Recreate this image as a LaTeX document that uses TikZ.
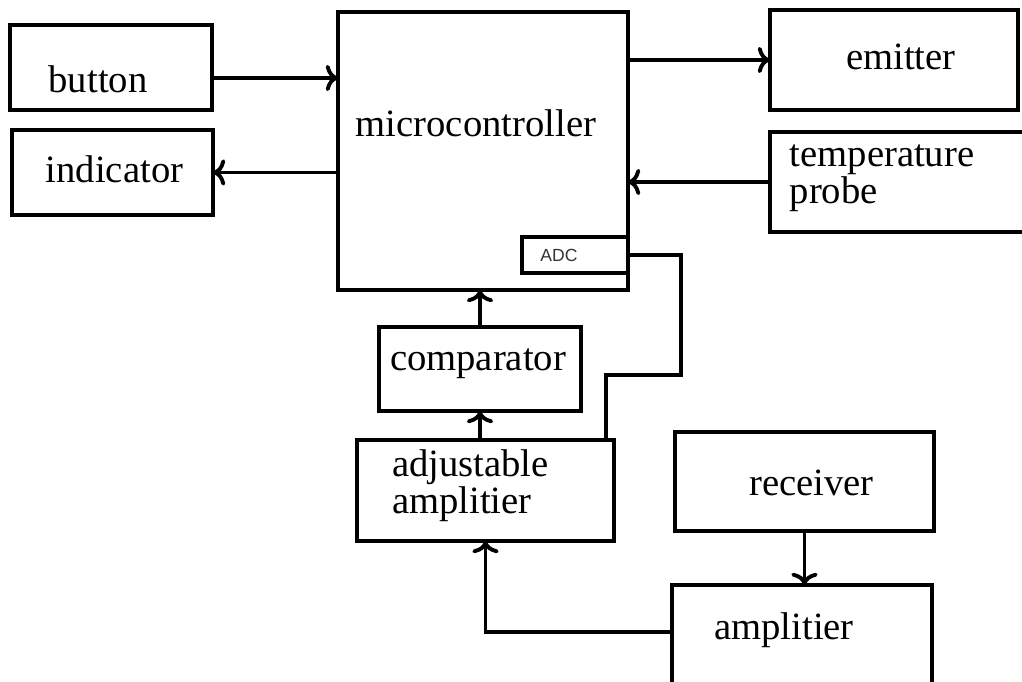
\documentclass[tikz,border=0pt]{standalone}
\usepackage{fontspec}
\setmainfont{Liberation Serif}
\newfontfamily\adcfont{Liberation Sans}
\usetikzlibrary{arrows.meta,positioning}

\tikzset{
  blk/.style 2 args={draw, line width=2.2pt, inner sep=0pt, outer sep=0pt,
    minimum width=#1*0.02cm, minimum height=#2*0.02cm},
  conn/.style={line width=2pt},
  arr/.style={conn, -{To[length=7pt,width=15pt,line width=2.2pt]}},
  txt/.style={font=\fontsize{22}{18}\selectfont, align=left}
}

\begin{document}
\begin{tikzpicture}[x=0.02cm, y=-0.02cm]
        \useasboundingbox (0,0) rectangle (1022,682);
        % blocks
        \node[blk={202}{85}, label={[txt, shift={(-13,12)}]center:button}] (button) at (111,67.5) {};
        \node[blk={201}{85}, label={[txt, shift={(2,-3)}]center:indicator}] (indicator) at (112.5,172.5) {};
        \node[blk={290}{278}, label={[txt, shift={(-7,-28)}]center:microcontroller}] (micro) at (483,151) {};
        \node[blk={106}{36}, label={[font=\adcfont\fontsize{10}{12}\selectfont, text=black!80, shift={(-16,0)}]center:ADC}] (adc) at (575,255) {};
        \node[blk={248}{100}, label={[txt, shift={(7,-3)}]center:emitter}] (emitter) at (894,60) {};
        \node[blk={260}{100}, label={[txt, shift={(-18,-4)}]center:temperature\\probe}] (tprobe) at (900,182) {};
        \node[blk={202}{84}, label={[txt, shift={(-2,-5)}]center:comparator}] (comparator) at (480,369) {};
        \node[blk={257}{101}, label={[txt, shift={(-15,-5)}]center:adjustable\\amplitier}] (adjamp) at (485.5,490.5) {};
        \node[blk={259}{99}, label={[txt, shift={(7,1)}]center:receiver}] (receiver) at (804.5,481.5) {};
        \node[blk={260}{115}, label={[txt, shift={(-18,-12)}]center:amplitier}] (amp) at (802,642.5) {};

        % connections
        \draw[arr] (button.east |- 0,78) -- (micro.west |- 0,78);
        \draw[arr] (micro.west |- indicator.east) -- (indicator.east);
        \draw[arr] (micro.east |- emitter.west) -- (emitter.west);
        \draw[arr] (tprobe.west) -- (micro.east |- tprobe.west);
        \draw[arr] (comparator.north) -- (comparator.north |- micro.south);
        \draw[arr] (comparator.south |- adjamp.north) -- (comparator.south);
        \draw[arr] (receiver.south) -- (receiver.south |- amp.north);
        \draw[arr] (amp.west |- 0,632) -| (adjamp.south);
        \draw[conn] (adc.east) -- (681,255) -- (681,375) -- (606,375) -- (606,0 |- adjamp.north);
    \end{tikzpicture}
\end{document}
